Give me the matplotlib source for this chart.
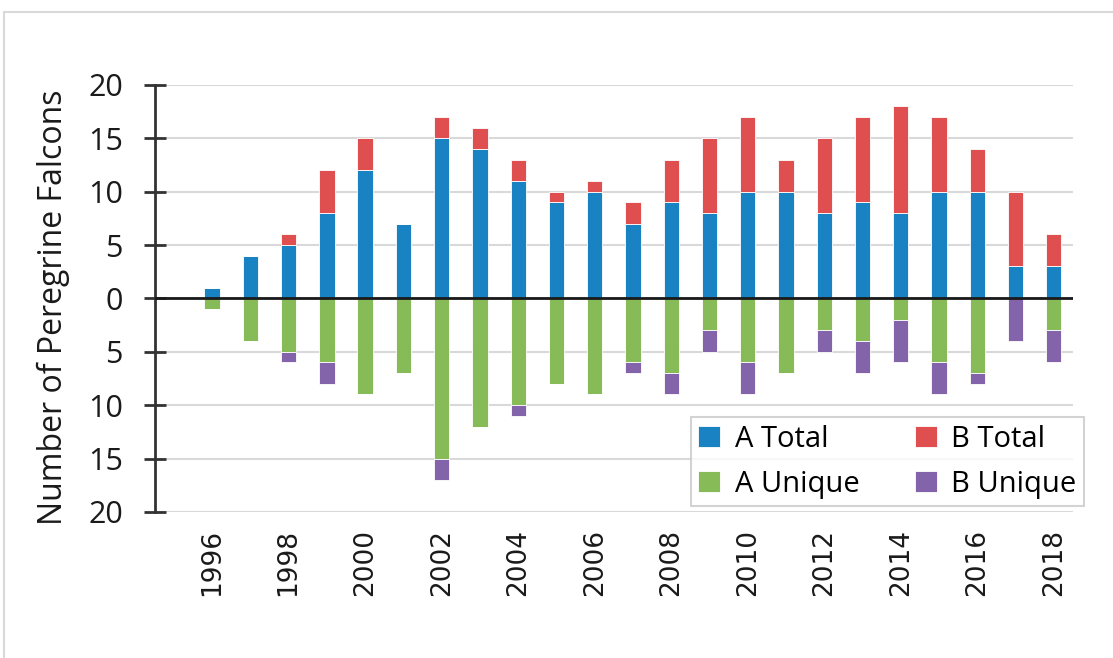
import numpy as np
import matplotlib.pyplot as plt
from matplotlib.patches import Rectangle

years = list(range(1996, 2019))
a_total = [1, 4, 5, 8, 12, 7, 15, 14, 11, 9, 10, 7, 9, 8, 10, 10, 8, 9, 8, 10, 10, 3, 3]
b_total = [0, 0, 1, 4, 3, 0, 2, 2, 2, 1, 1, 2, 4, 7, 7, 3, 7, 8, 10, 7, 4, 7, 3]
a_unique = [1, 4, 5, 6, 9, 7, 15, 12, 10, 8, 9, 6, 7, 3, 6, 7, 3, 4, 2, 6, 7, 0, 3]
b_unique = [0, 0, 1, 2, 0, 0, 2, 0, 1, 0, 0, 1, 2, 2, 3, 0, 2, 3, 4, 3, 1, 4, 3]
yticks = [-20, -15, -10, -5, 0, 5, 10, 15, 20]

c_at = '#1882C3'
c_bt = '#E04F4F'
c_au = '#86BB57'
c_bu = '#8363AA'

plt.rcParams['font.family'] = ['Open Sans', 'DejaVu Sans']

fig = plt.figure(figsize=(11.13, 6.58), dpi=100)
ax = fig.add_axes([0.139, 0.222, 0.825, 0.649])

x = np.array(years)
a_total = np.array(a_total)
a_unique = np.array(a_unique)
w = 0.4
edge = dict(edgecolor='#ffffff', linewidth=0.6)
ax.bar(x, a_total, w, color=c_at, label='A Total', zorder=3, **edge)
ax.bar(x, b_total, w, bottom=a_total, color=c_bt, label='B Total', zorder=3, **edge)
ax.bar(x, -a_unique, w, color=c_au, label='A Unique', zorder=3, **edge)
ax.bar(x, -np.array(b_unique), w, bottom=-a_unique, color=c_bu, label='B Unique', zorder=3, **edge)

ax.axhline(0, color='#1a1a1a', lw=2, zorder=4)
ax.set_xlim(1994.5, 2018.5)
ax.set_ylim(-20, 20)
ax.set_yticks(yticks)
ax.set_yticklabels([str(abs(v)) for v in yticks], fontsize=22)
ax.yaxis.grid(True, color='#d9d9d9', lw=1.5, zorder=0)
ax.set_axisbelow(True)

ax.set_xticks(years[::2])
ax.set_xticklabels([str(y) for y in years[::2]], rotation=90, fontsize=19,
                   family='DejaVu Sans', color='#1a1a1a')
ax.tick_params(axis='x', length=0, pad=12)
ax.tick_params(axis='y', direction='inout', length=16, width=2, color='#333333',
               pad=15, labelcolor='#1a1a1a')

for s in ['top', 'right', 'bottom']:
    ax.spines[s].set_visible(False)
ax.spines['left'].set_color('#333333')
ax.spines['left'].set_linewidth(2)

ax.set_ylabel('Number of Peregrine Falcons', fontsize=23, color='#1a1a1a', va='center')
ax.yaxis.set_label_coords(-0.110, 0.48)

h, l = ax.get_legend_handles_labels()
order = [0, 2, 1, 3]
leg = ax.legend([h[i] for i in order], [l[i] for i in order], ncol=2,
                loc='lower right', bbox_to_anchor=(1.012, 0.014), borderaxespad=0,
                fontsize=21, frameon=True, fancybox=False, edgecolor='#c8c8c8',
                handlelength=0.75, handleheight=0.75, columnspacing=1.9,
                handletextpad=0.5, borderpad=0.25, labelspacing=0.55)
leg.get_frame().set_linewidth(1.5)
leg.set_zorder(5)

fig.patches.append(Rectangle((4 / 1113, -0.01), 1.0, 1 - 12 / 658 + 0.01,
                             transform=fig.transFigure, fill=False,
                             edgecolor='#d9d9d9', lw=1.5))

fig.savefig('out.png', dpi=100, facecolor='white')
